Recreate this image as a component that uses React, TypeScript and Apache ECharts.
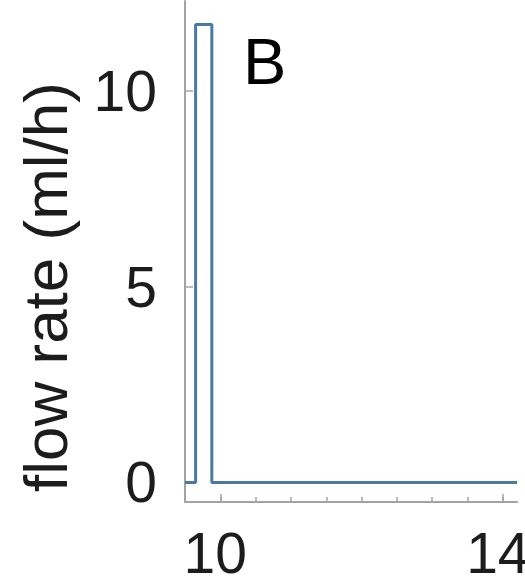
import React, { useEffect, useRef } from "react";
import * as echarts from "echarts";

// Data
const timeH: number[] = [9.5, 9.65, 9.65, 9.88, 9.88, 14.2];
const flowRate: number[] = [0, 0, 11.7, 11.7, 0, 0];
const xMajorTicks: number[] = [10, 14];
const xMinorTicks: number[] = [9.5, 10, 10.5, 11, 11.5, 12, 12.5, 13, 13.5, 14];
const yTicks: number[] = [0, 5, 10];
const yAxisTitle = "flow rate (ml/h)";
const panelLabel = "B";

const FONT = "'Liberation Sans', Arial, Helvetica, sans-serif";
const AXIS_COLOR = "#a3a3a3";
const TEXT_COLOR = "#1c1c1c";

export default function App() {
  const ref = useRef<HTMLDivElement>(null);

  useEffect(() => {
    if (!ref.current) return;
    const chart = echarts.init(ref.current, undefined, { renderer: "svg" });
    const pts = timeH.map((t, i) => [t, flowRate[i]]);
    chart.setOption({
      animation: false,
      backgroundColor: "#ffffff",
      grid: {
        left: 185,
        right: 8,
        top: 1,
        bottom: 82,
        containLabel: false,
        outerBoundsMode: "none",
      },
      xAxis: [
        {
          type: "value",
          min: 9.5,
          max: 14.2,
          position: "bottom",
          offset: 0,
          axisLine: { show: true, onZero: false, lineStyle: { color: AXIS_COLOR, width: 2 } },
          axisTick: {
            show: true,
            inside: true,
            length: 5,
            customValues: xMinorTicks,
            lineStyle: { color: AXIS_COLOR, width: 1.5 },
          },
          axisLabel: {
            show: true,
            customValues: xMajorTicks,
            margin: 22,
            fontSize: 57,
            fontFamily: FONT,
            color: TEXT_COLOR,
            padding: [0, 10, 0, 0],
          },
          splitLine: { show: false },
        },
        {
          type: "value",
          min: 9.5,
          max: 14.2,
          position: "bottom",
          offset: 0,
          axisLine: { show: false, onZero: false },
          axisTick: {
            show: true,
            inside: true,
            length: 8,
            customValues: xMajorTicks,
            lineStyle: { color: AXIS_COLOR, width: 1.5 },
          },
          axisLabel: { show: false },
          splitLine: { show: false },
        },
      ],
      yAxis: {
        type: "value",
        min: -0.5,
        max: 12.3,
        axisLine: { show: true, onZero: false, lineStyle: { color: AXIS_COLOR, width: 2 } },
        axisTick: {
          show: true,
          inside: true,
          length: 8,
          customValues: yTicks,
          lineStyle: { color: AXIS_COLOR, width: 1.5 },
        },
        axisLabel: {
          show: true,
          customValues: yTicks,
          margin: 28,
          fontSize: 57,
          fontFamily: FONT,
          color: TEXT_COLOR,
        },
        splitLine: { show: false },
      },
      series: [
        {
          type: "line",
          xAxisIndex: 0,
          data: pts,
          showSymbol: false,
          symbol: "none",
          lineStyle: { color: "#4a79a8", width: 3 },
        },
      ],
      graphic: [
        {
          type: "text",
          x: 45,
          y: 287,
          rotation: Math.PI / 2,
          style: {
            text: yAxisTitle,
            fontSize: 62,
            fontFamily: FONT,
            fill: TEXT_COLOR,
            align: "center",
            verticalAlign: "middle",
          },
        },
        {
          type: "text",
          x: 243,
          y: 61,
          style: {
            text: panelLabel,
            fontSize: 65,
            fontFamily: FONT,
            fill: "#000000",
            align: "left",
            verticalAlign: "middle",
          },
        },
      ],
    });
    return () => chart.dispose();
  }, []);

  return (
    <div
      ref={ref}
      style={{ position: "fixed", left: 0, top: 0, width: 525, height: 584 }}
    />
  );
}
